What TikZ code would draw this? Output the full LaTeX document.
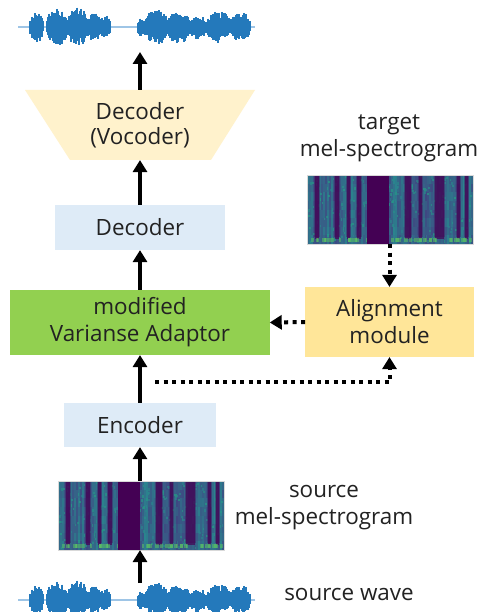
\documentclass[tikz,border=0pt]{standalone}
\usepackage{fontspec}
\setmainfont{Open Sans}
\usetikzlibrary{arrows.meta}
\definecolor{boxblue}{HTML}{DEEBF7}
\definecolor{boxgreen}{HTML}{92D050}
\definecolor{boxyellow}{HTML}{FFE699}
\definecolor{boxpeach}{HTML}{FFF2CC}
\definecolor{vdark}{HTML}{440154}
\definecolor{vpurp}{HTML}{46327E}
\definecolor{vblue}{HTML}{3B528B}
\definecolor{vteal}{HTML}{2A848E}
\definecolor{vgreen}{HTML}{22A884}
\definecolor{vlgreen}{HTML}{5EC962}
\definecolor{wblue}{HTML}{2479BB}
\definecolor{wline}{HTML}{9EC5E6}
\definecolor{txt}{HTML}{222222}
\newcommand\mySpectro[2]{%
 \begin{scope}[shift={(#1,#2)}]
  \pgfmathsetseed{11}
  \fill[vblue] (0,0) rectangle (166,69);
  \foreach \i in {0,2,...,164} {
    \pgfmathsetmacro\base{rnd}
    \foreach \j in {0,8.625,...,60.5} {
      \pgfmathsetmacro\m{int(100*min(1,max(0,0.25+\base*0.5+0.3*rnd)))}
      \fill[vteal!\m!vpurp] (\i,\j) rectangle ++(2,8.7);
    }
  }
  \foreach \k in {1,...,220} {
    \pgfmathsetmacro\px{rnd*164}\pgfmathsetmacro\py{rnd*66}
    \pgfmathsetmacro\m{int(rnd*100)}
    \fill[vgreen!\m!vteal,opacity=0.6] (\px,\py) rectangle ++(1.6,2.4);
  }
  \foreach \s/\w in {8/4, 28/4, 40/3, 50/4, 98/6, 112/3, 128/9, 150/3, 158/3} {
    \fill[vdark,opacity=0.7] (\s,0) rectangle ++(\w,64);
    \fill[vdark,opacity=0.35] (\s-1,0) rectangle ++(\w+2,62);
  }
  \foreach \k in {1,...,55} {
    \pgfmathsetmacro\px{rnd*164}
    \fill[vlgreen,opacity=0.5] (\px,63) rectangle ++(2.5,4);
  }
  \fill[vdark] (60,0) rectangle (82,69);
  \draw[gray!30,line width=0.6bp] (0,0) rectangle (166,69);
 \end{scope}}
\newcommand\myWave[2]{%
 \begin{scope}[shift={(#1,#2)}]
  \pgfmathsetseed{5}
  \draw[wline,line width=1.2bp] (0,0) -- (237,0);
  \foreach \a/\b/\h in {12/25/16, 29/49/19, 50/69/20, 69/82/15, 82/92/12, 120/126/10, 126/150/18, 150/172/17, 172/188/12, 189/212/16, 212/232/15} {
    \foreach \x in {\a,...,\b} {
      \pgfmathsetmacro\env{pow(sin(180*(\x-\a+0.5)/(\b-\a+1)),0.35)}
      \pgfmathsetmacro\hu{\h*\env*(0.55+0.45*rnd)}
      \pgfmathsetmacro\hd{\h*\env*(0.55+0.45*rnd)}
      \draw[wblue,line width=1.5bp] (\x,-\hu) -- (\x,\hd);
    }
  }
 \end{scope}}
\begin{document}
\begin{tikzpicture}[x=1bp,y=-1bp,
  every node/.style={text=txt,font=\fontsize{22.5}{27}\selectfont},
  box/.style={inner sep=0pt,align=center},
  arr/.style={line width=4.5bp,-{Triangle[width=14bp,length=12bp]}},
  dotarr/.style={line width=4bp,dash pattern=on 4bp off 4.5bp,-{Triangle[width=14bp,length=12bp]}}]
\useasboundingbox (0,0) rectangle (481,612);
\fill[white] (0,0) rectangle (481,612);

% waveforms
\myWave{18}{27}
\myWave{18}{600}
\coordinate (wavetop) at (140,52);
\coordinate (wavebot) at (140,583);

% trapezoid vocoder
\fill[boxpeach] (25,90) -- (255,90) -- (211,160) -- (70,160) -- cycle;
\node[box,minimum width=141,minimum height=70] (voc) at (140,125) {Decoder\\[-2bp](Vocoder)};

% boxes
\node[box,fill=boxblue,minimum width=170,minimum height=45] (dec) at (140,227.5) {Decoder};
\node[box,fill=boxgreen,minimum width=260,minimum height=65] (var) at (140,322.5) {modified\\Varianse Adaptor};
\node[box,fill=boxyellow,minimum width=169,minimum height=70] (align) at (389.5,322) {Alignment\\module};
\node[box,fill=boxblue,minimum width=152,minimum height=44] (enc) at (140,425) {Encoder};

% spectrograms
\mySpectro{307}{175}
\node[box,minimum width=166,minimum height=69] (tgt) at (390,209.5) {};
\mySpectro{58}{481}
\node[box,minimum width=166,minimum height=69] (src) at (141,515.5) {};

% labels
\node[box] (tgtlab) at (389,138) {target\\mel-spectrogram};
\node[box] (srclab) at (324,508) {source\\mel-spectrogram};
\node[box] (wavelab) at (349,594) {source wave};

% solid arrows
\draw[arr] (wavebot) -- (src.south -| wavebot);
\draw[arr] (src.north -| wavebot) -- (enc.south);
\draw[arr] (enc.north) -- (var.south);
\draw[arr] (var.north) -- (dec.south);
\draw[arr] (dec.north) -- (voc.south);
\draw[arr] (voc.north) -- (wavetop);

% dotted arrows
\coordinate (split) at (155,382);
\draw[dotarr] (tgt.south -| align.north) -- (align.north);
\draw[dotarr] (align.west) -- (var.east);
\draw[dotarr] (split) -| (align.south);
\end{tikzpicture}
\end{document}
